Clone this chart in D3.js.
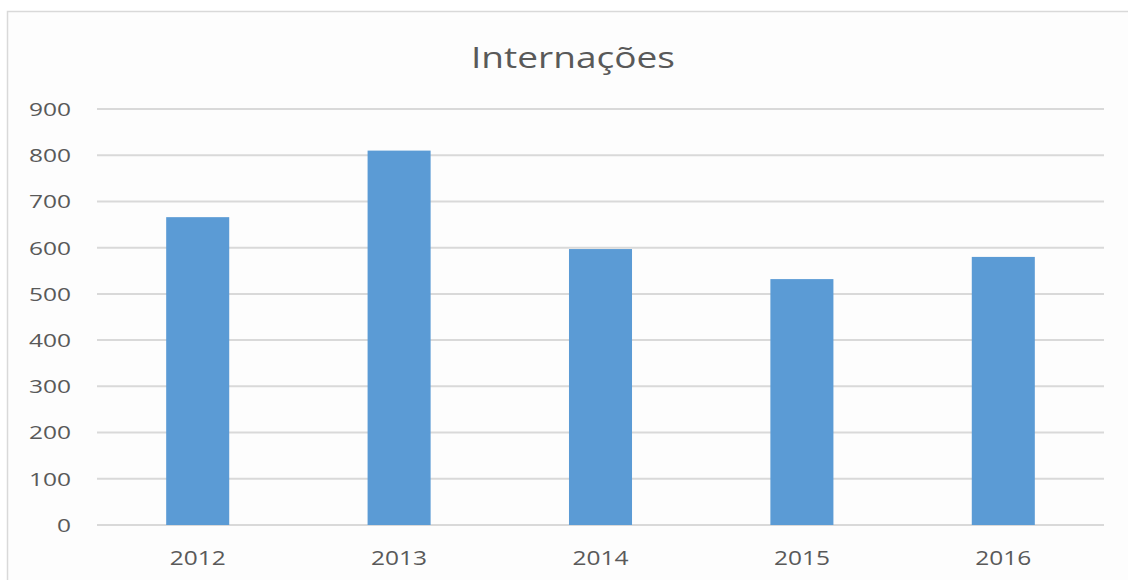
<!DOCTYPE html>
<html>
<head>
<meta charset="utf-8">
<script src="https://cdn.jsdelivr.net/npm/d3@7"></script>
<style>
  body { margin: 0; background: #ffffff; }
  text { font-family: "Open Sans", "Liberation Sans", sans-serif; fill: #595959; }
</style>
</head>
<body>
<div id="chart"></div>
<script>
// data
const years = ["2012", "2013", "2014", "2015", "2016"];
const internacoes = [666, 810, 597, 532, 580];
const yTicks = [0, 100, 200, 300, 400, 500, 600, 700, 800, 900];

const width = 1128, height = 580;
const margin = {top: 109, right: 24, bottom: 55, left: 97};

const svg = d3.select("#chart").append("svg")
  .attr("width", width)
  .attr("height", height);

// chart area frame
svg.append("rect")
  .attr("x", 7.5).attr("y", 11.5)
  .attr("width", width + 10).attr("height", height + 10)
  .attr("fill", "#fdfdfd")
  .attr("stroke", "#d9d9d9")
  .attr("stroke-width", 1.5);

const x = d3.scaleBand()
  .domain(years)
  .range([margin.left, width - margin.right])
  .paddingInner(0.687)
  .paddingOuter(0.3435);

const y = d3.scaleLinear()
  .domain([0, 900])
  .range([height - margin.bottom, margin.top]);

// gridlines
svg.append("g")
  .selectAll("line")
  .data(yTicks)
  .join("line")
  .attr("x1", margin.left)
  .attr("x2", width - margin.right)
  .attr("y1", d => y(d))
  .attr("y2", d => y(d))
  .attr("stroke", "#d9d9d9")
  .attr("stroke-width", 2);

// y labels
svg.append("g")
  .selectAll("text")
  .data(yTicks)
  .join("text")
  .attr("x", 71)
  .attr("y", d => y(d))
  .attr("dy", "0.36em")
  .attr("text-anchor", "end")
  .attr("font-size", 19)
  .attr("textLength", d => String(d).length * 14)
  .attr("lengthAdjust", "spacingAndGlyphs")
  .text(d => d);

// bars
svg.append("g")
  .selectAll("rect")
  .data(internacoes)
  .join("rect")
  .attr("x", (d, i) => x(years[i]))
  .attr("width", x.bandwidth())
  .attr("y", d => y(d))
  .attr("height", d => y(0) - y(d))
  .attr("fill", "#5b9bd5");

// x labels
svg.append("g")
  .selectAll("text")
  .data(years)
  .join("text")
  .attr("x", d => x(d) + x.bandwidth() / 2)
  .attr("y", 565)
  .attr("text-anchor", "middle")
  .attr("font-size", 20)
  .attr("textLength", 56)
  .attr("lengthAdjust", "spacingAndGlyphs")
  .text(d => d);

// title
svg.append("text")
  .attr("x", 573)
  .attr("y", 68)
  .attr("text-anchor", "middle")
  .attr("font-size", 30)
  .attr("textLength", 204)
  .attr("lengthAdjust", "spacingAndGlyphs")
  .text("Internações");
</script>
</body>
</html>
